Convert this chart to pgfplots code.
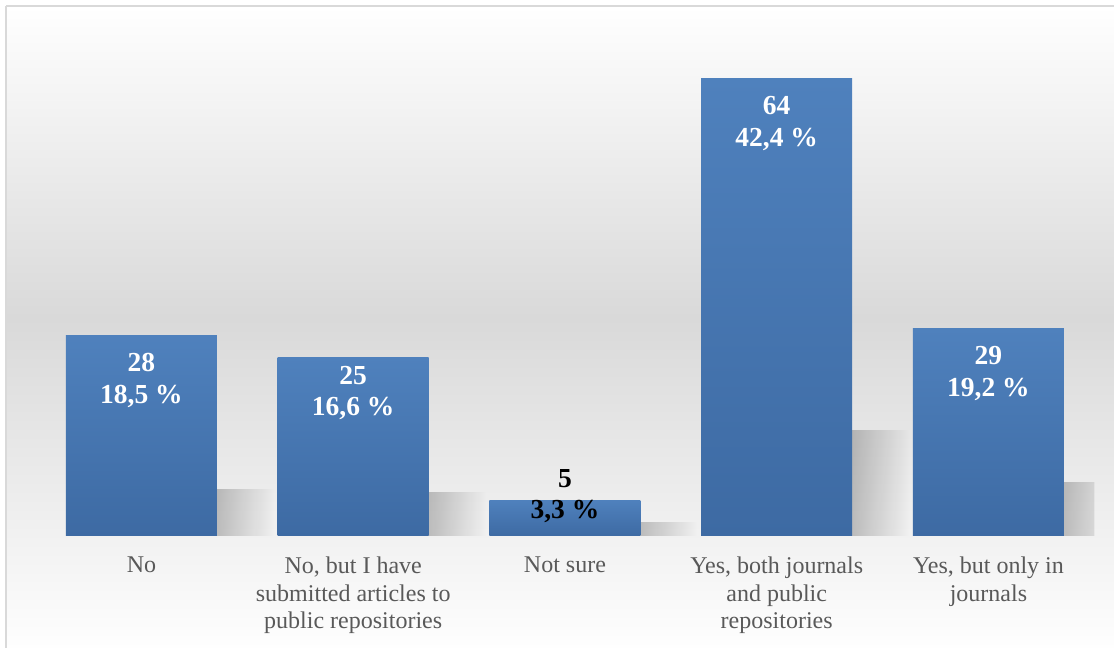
\documentclass[border=0pt]{standalone}
\usepackage{fontspec}
\setmainfont{Liberation Serif}
\usepackage{pgfplots}
\pgfplotsset{compat=1.18}
\usepackage{pgfplotstable}
\usetikzlibrary{fadings}
\definecolor{barTop}{HTML}{4F81BD}
\definecolor{barBot}{HTML}{3D6AA3}
\definecolor{labc}{HTML}{595959}
\definecolor{framec}{HTML}{D9D9D9}
\definecolor{bgMid}{HTML}{D9D9D9}
\tikzfading[name=shfade, left color=transparent!78, middle color=transparent!82, right color=transparent!100]

\pgfplotstableread[col sep=semicolon]{
x;y;off;lab
0;28;-44.5;{28\\18,5 \%}
1;25;-36;{25\\16,6 \%}
2;5;4;{\color{black}5\\\color{black}3,3 \%}
3;64;-45.5;{64\\42,4 \%}
4;29;-45;{29\\19,2 \%}
}\datatable

\begin{document}
\begin{tikzpicture}[x=1pt,y=1pt]
\useasboundingbox (0,0) rectangle (1114,648);
\shade[top color=white, bottom color=bgMid] (6,642) rectangle (1125,330);
\shade[top color=bgMid, bottom color=white] (6,330) rectangle (1125,-10);
\draw[framec, line width=2pt] (6,642) -- (1125,642);
\draw[framec, line width=2pt] (6,642) -- (6,-10);
\begin{axis}[
  at={(35.6pt,112pt)}, anchor=south west,
  scale only axis, width=1058.8pt, height=500.9pt,
  xmin=-0.5, xmax=4.5, ymin=0, ymax=70,
  axis line style={draw=none}, major tick length=0pt,
  ytick=\empty, xtick={0,1,2,3,4},
  xticklabels={{No},{No, but I have\\submitted articles to\\public repositories},{Not sure},{Yes, both journals\\and public\\repositories},{Yes, but only in\\journals}},
  xticklabel style={font=\fontsize{24}{27.5}\selectfont, text=labc, align=center, anchor=north, inner sep=0pt, yshift=-21pt},
  ybar=0pt, bar width=0.713,
  shadowbar/.style={draw=none, fill=black, bar width=0.27, bar shift=0.49, path fading=shfade},
  mainbar/.style={draw=none, bar shift=0, top color=barTop, bottom color=barBot},
]
% shadows
\addplot[shadowbar] coordinates {(0,6.6)};
\addplot[shadowbar] coordinates {(1,6.2)};
\addplot[shadowbar] coordinates {(2,2.0)};
\addplot[shadowbar] coordinates {(3,14.8)};
\addplot[shadowbar] coordinates {(4,7.6)};
% bars
\addplot[mainbar] coordinates {(0,28)};
\addplot[mainbar] coordinates {(1,25)};
\addplot[mainbar] coordinates {(2,5)};
\addplot[mainbar] coordinates {(3,64)};
\addplot[mainbar] coordinates {(4,29)};
% labels
\addplot[draw=none, fill=none, bar shift=0,
  nodes near coords, point meta=explicit symbolic,
  visualization depends on={\thisrow{off} \as \myoff},
  nodes near coords style={anchor=center, yshift=\myoff pt, align=center, text=white, inner sep=0pt,
    font=\bfseries\fontsize{27.5}{31.7}\selectfont}]
  table[x=x,y=y,meta=lab]{\datatable};
\end{axis}
\end{tikzpicture}
\end{document}
